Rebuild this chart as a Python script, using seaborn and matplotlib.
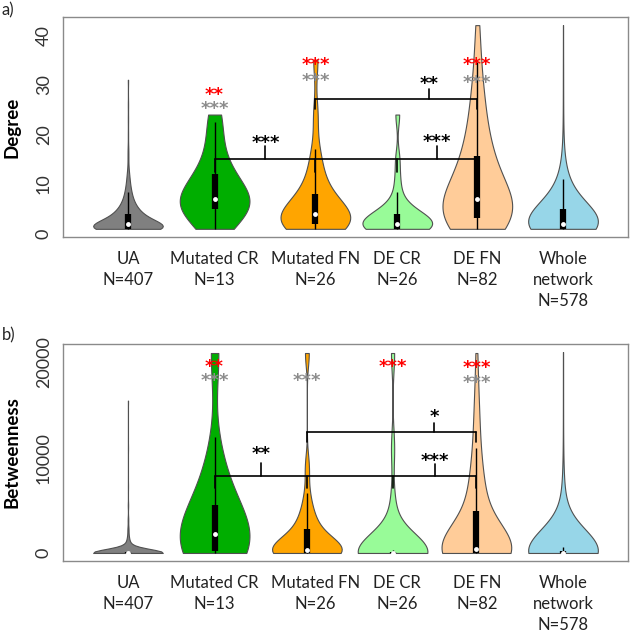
import numpy as np
import pandas as pd
import matplotlib
matplotlib.use("Agg")
import matplotlib.pyplot as plt
import seaborn as sns

# ---------------- data ----------------
groups = ["UA", "Mutated CR", "Mutated FN", "DE CR", "DE FN", "Whole network"]
tick_labels = ["UA\nN=407", "Mutated CR\nN=13", "Mutated FN\nN=26", "DE CR\nN=26",
               "DE FN\nN=82", "Whole\nnetwork\nN=578"]
colors = ["#808080", "#00AE00", "#FFA500", "#98FB98", "#FFCC99", "#97D6E8"]

# ---- Degree ----
# large groups as frequency tables (value, number of nodes)
deg_ua_vals = [1, 2, 3, 4, 5, 6, 7, 8, 9, 10, 11, 12, 13, 15, 17, 20, 23, 26, 31]
deg_ua_n = [151, 80, 50, 35, 24, 17, 12, 9, 7, 5, 4, 3, 2, 2, 2, 1, 1, 1, 1]
deg_mut_cr = [1, 3, 5, 5, 6, 7, 7, 8, 10, 12, 14, 19, 24]
deg_mut_fn = [1, 1, 1, 1, 2, 2, 2, 2, 3, 3, 3, 4, 4, 4, 4, 5, 6, 7, 8, 8, 10, 12,
              14, 17, 24, 35]
deg_de_cr = [1, 1, 1, 1, 1, 1, 1, 1, 2, 2, 2, 2, 2, 2, 3, 3, 3, 4, 4, 4, 5, 6, 8,
             11, 15, 24]
deg_de_fn_vals = [1, 2, 3, 4, 5, 6, 7, 8, 9, 10, 11, 12, 13, 14, 15, 16, 17, 18, 19,
                  20, 22, 24, 26, 28, 30, 33, 36, 39, 42]
deg_de_fn_n = [5, 7, 9, 6, 5, 5, 5, 3, 3, 3, 2, 2, 2, 2, 2, 2, 2, 1, 2,
               1, 2, 2, 2, 1, 2, 1, 1, 1, 1]
deg_whole_vals = [1, 2, 3, 4, 5, 6, 7, 8, 9, 10, 11, 12, 13, 14, 15, 17, 19, 21, 24,
                  27, 31, 35, 42]
deg_whole_n = [200, 110, 60, 50, 40, 28, 20, 15, 12, 10, 7, 6, 4, 3, 3, 2, 2, 1, 1,
               1, 1, 1, 1]

# ---- Betweenness ----
btw_ua_vals = [0, 50, 150, 300, 500, 800, 1200, 1700, 2500, 3500, 5000, 7000, 11000,
               16000]
btw_ua_n = [290, 25, 20, 18, 15, 12, 8, 6, 5, 3, 2, 1, 1, 1]
btw_mut_cr = [0, 50, 150, 200, 800, 1500, 2000, 2800, 3800, 5000, 7000, 10000, 21000]
btw_mut_fn = [0, 0, 0, 0, 0, 0, 0, 50, 100, 150, 200, 300, 300, 350, 500, 700, 900,
              1300, 2000, 2700, 3000, 3500, 4500, 6000, 9000, 21000]
btw_de_cr = [0, 0, 0, 0, 0, 0, 0, 0, 0, 0, 0, 0, 0, 0, 10, 30, 50, 80, 120, 150,
             500, 1500, 3000, 5500, 11000, 21000]
btw_de_fn_vals = [0, 100, 300, 500, 800, 1200, 1700, 2300, 3000, 3800, 4600, 5500,
                  6500, 7500, 9000, 11000, 13000, 15500, 18000, 21000]
btw_de_fn_n = [30, 6, 5, 4, 4, 3, 3, 2, 2, 2, 2, 3, 3, 2, 3, 2, 2, 2, 1, 1]
btw_whole_vals = [0, 100, 250, 600, 1000, 1500, 2200, 3000, 4000, 5000, 6500, 8000,
                  10000, 12500, 15000, 18000, 21100]
btw_whole_n = [350, 50, 40, 28, 24, 20, 18, 14, 11, 8, 6, 3, 2, 1, 1, 1, 1]

# significance marks above each violin (vs. background)
sig_red_deg = ["", "**", "***", "", "***", ""]
sig_gray_deg = ["", "***", "***", "", "***", ""]
sig_red_btw = ["", "**", "", "***", "***", ""]
sig_gray_btw = ["", "***", "***", "", "***", ""]

# ---------------- layout / style ----------------
pos_a = [1.19, 2.11, 3.18, 4.05, 4.90, 5.81]
pos_b = [1.19, 2.11, 3.09, 4.00, 4.89, 5.81]
label_pos = pos_a
bw_deg = [1.06, 1.0, 0.8, 0.8, 1.3, 3.0]
bw_btw = [1.06, 1.0, 0.6, 0.8, 1.3, 4.0]

sns.set_theme(style="white")
plt.rcParams["font.family"] = ["Lato", "DejaVu Sans"]

fig = plt.figure(figsize=(6.3, 6.41), dpi=100)
ax_a = fig.add_axes([0.100, 0.6303, 0.8968, 0.3432])
ax_b = fig.add_axes([0.100, 0.1248, 0.8968, 0.3385])

edge = "#505050"


def draw_panel(ax, series, pos, bws):
    frames = []
    for g, vals, p in zip(groups, series, pos):
        frames.append(pd.DataFrame({"group": g, "pos": p,
                                    "value": np.asarray(vals, dtype=float)}))
    df = pd.concat(frames, ignore_index=True)
    for g, col, bw in zip(groups, colors, bws):
        sub = df[df["group"] == g]
        sns.violinplot(data=sub, x="pos", y="value", native_scale=True, orient="x",
                       color=col, saturation=1, cut=0, inner=None,
                       density_norm="width", width=0.74, bw_adjust=bw,
                       linewidth=0.8, linecolor=edge, ax=ax)
    for vals, p in zip(series, pos):
        v = np.asarray(vals, dtype=float)
        q1, med, q3 = np.percentile(v, [25, 50, 75])
        iqr = q3 - q1
        up = min(q3 + 1.5 * iqr, v.max())
        lo = max(q1 - 1.5 * iqr, v.min())
        ax.vlines(p, lo, up, color="black", lw=1.0, zorder=3)
        ax.vlines(p, q1, q3, color="black", lw=4.5, zorder=3, capstyle="butt")
        ax.plot([p], [med], "o", color="white", ms=3.5, mec="none", zorder=4)
    allv = np.concatenate([np.asarray(s, float) for s in series])
    lo, hi = allv.min(), allv.max()
    pad = 0.04 * (hi - lo)
    ax.set_ylim(lo - pad, hi + pad)
    ax.set_xlim(0.5, 6.5)
    # tick marks at the violins (minor), category names in the label slots (major)
    ax.xaxis.remove_overlapping_locs = False
    ax.set_xticks(label_pos, tick_labels, fontsize=12, linespacing=1.4)
    ax.set_xticks(pos, minor=True)
    ax.set_xlabel("")
    for s in ax.spines.values():
        s.set_color("#8a8a8a")
        s.set_linewidth(1.0)
    ax.tick_params(axis="both", which="both", direction="out", width=0.8,
                   color="#8a8a8a", labelcolor="#333333")
    ax.tick_params(axis="y", length=5)
    ax.tick_params(axis="x", which="major", length=0, pad=10, labelcolor="#222222")
    ax.tick_params(axis="x", which="minor", length=5)


def set_yaxis(ax, ticks, labels, name):
    ax.set_yticks(ticks, labels, rotation=90, va="center", ha="right", fontsize=13)
    ax.tick_params(axis="y", pad=3)
    ax.set_ylabel(name, fontsize=13.5, fontweight="bold", color="black")
    ax.yaxis.set_label_coords(-0.075, 0.5)


def stars(ax, x, y, txt, color, fs=13):
    ax.annotate(txt, (x, y), xytext=(0, -0.62 * fs), textcoords="offset points",
                ha="center", va="baseline", color=color, fontsize=fs,
                fontweight="bold", family="DejaVu Sans", zorder=6)


def bracket(ax, x0, x1, y, drops, drop_to, tick_x, tick_to):
    ax.plot([x0, x1], [y, y], color="black", lw=1.2, zorder=5)
    for d in drops:
        ax.plot([d, d], [y, drop_to], color="black", lw=1.2, zorder=5)
    ax.plot([tick_x, tick_x], [y, tick_to], color="black", lw=1.2, zorder=5)


# ---------- panel a ----------
deg_series = [np.repeat(deg_ua_vals, deg_ua_n), deg_mut_cr, deg_mut_fn, deg_de_cr,
              np.repeat(deg_de_fn_vals, deg_de_fn_n),
              np.repeat(deg_whole_vals, deg_whole_n)]
draw_panel(ax_a, deg_series, pos_a, bw_deg)
set_yaxis(ax_a, [0, 10, 20, 30, 40], ["0", "10", "20", "30", "40"], "Degree")

red_y_a = [0, 29.1, 35.3, 0, 35.3, 0]
gray_y_a = [0, 26.3, 32.1, 0, 31.7, 0]
for p, r, g, ry, gy in zip(pos_a, sig_red_deg, sig_gray_deg, red_y_a, gray_y_a):
    if r:
        stars(ax_a, p, ry, r, "red")
    if g:
        stars(ax_a, p, gy, g, "#8c8c8c")

bracket(ax_a, pos_a[1], pos_a[4], 15.0, [pos_a[1], pos_a[2], pos_a[3], pos_a[4]], 12.4,
        2.65, 17.6)
ax_a.plot([4.47, 4.47], [15.0, 17.6], color="black", lw=1.2, zorder=5)
stars(ax_a, 2.65, 19.6, "***", "black")
stars(ax_a, 4.47, 19.8, "***", "black")
bracket(ax_a, pos_a[2], pos_a[4], 27.2, [pos_a[2], pos_a[4]], 25.2, 4.39, 29.2)
stars(ax_a, 4.39, 31.3, "**", "black")

# ---------- panel b ----------
btw_series = [np.repeat(btw_ua_vals, btw_ua_n), btw_mut_cr, btw_mut_fn, btw_de_cr,
              np.repeat(btw_de_fn_vals, btw_de_fn_n),
              np.repeat(btw_whole_vals, btw_whole_n)]
draw_panel(ax_b, btw_series, pos_b, bw_btw)
set_yaxis(ax_b, [0, 5000, 10000, 15000, 20000], ["0", "", "10000", "", "20000"],
          "Betweenness")

red_y_b = [0, 20200, 0, 20200, 20100, 0]
gray_y_b = [0, 18700, 18700, 0, 18500, 0]
for p, r, g, ry, gy in zip(pos_b, sig_red_btw, sig_gray_btw, red_y_b, gray_y_b):
    if r:
        stars(ax_b, p, ry, r, "red")
    if g:
        stars(ax_b, p, gy, g, "#8c8c8c")

bracket(ax_b, pos_b[1], pos_b[4], 8100, [pos_b[1], pos_b[2], pos_b[3], pos_b[4]], 6800,
        2.60, 9500)
ax_b.plot([4.45, 4.45], [8100, 9300], color="black", lw=1.2, zorder=5)
stars(ax_b, 2.60, 11000, "**", "black")
stars(ax_b, 4.45, 10300, "***", "black")
bracket(ax_b, pos_b[2], pos_b[4], 12700, [pos_b[2], pos_b[4]], 11700, 4.44, 13700)
stars(ax_b, 4.44, 14950, "*", "black")

fig.text(0.003, 0.984, "a)", fontsize=12, va="center", ha="left")
fig.text(0.003, 0.477, "b)", fontsize=12, va="center", ha="left")

fig.savefig("out.png", dpi=100)
